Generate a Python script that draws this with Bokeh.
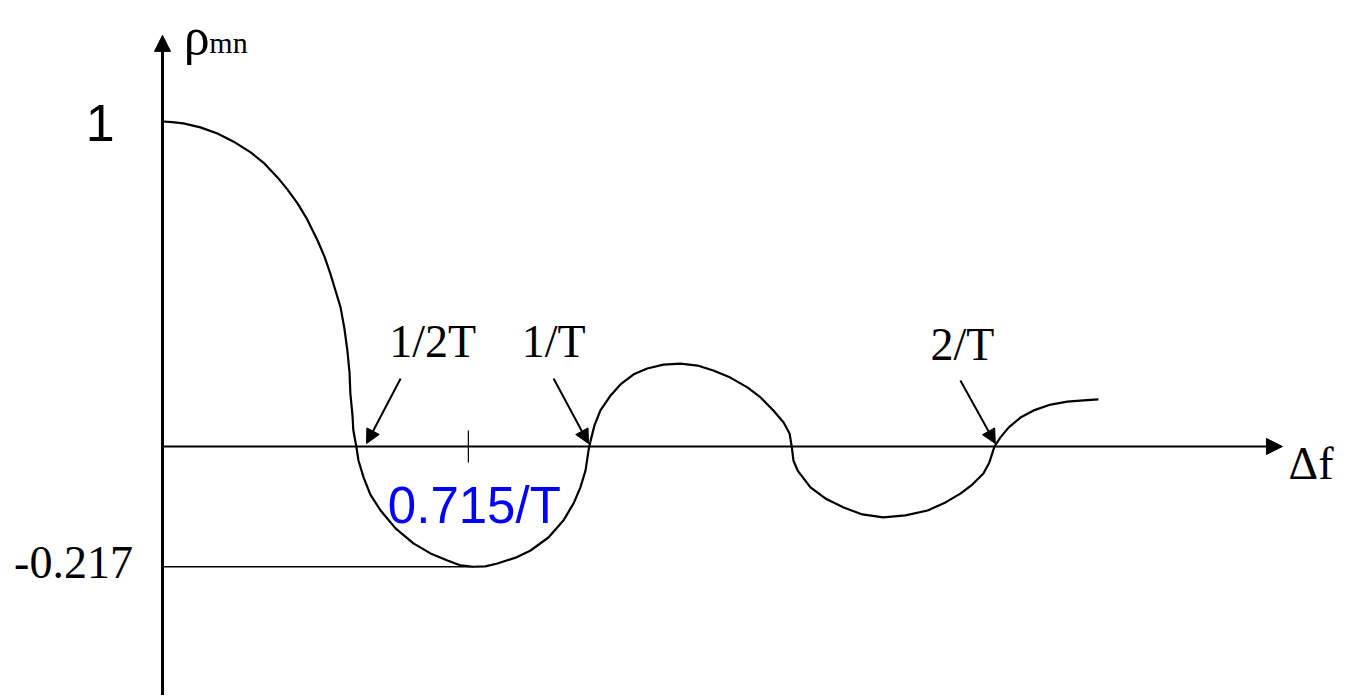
from bokeh.plotting import figure
from bokeh.models import Arrow, NormalHead, ColumnDataSource
from bokeh.core.properties import value
from bokeh.embed import file_html
from bokeh.resources import INLINE

# Schematic correlation curve rho_mn versus frequency offset (x in units of 1/T)
curve_x = [0.000, 0.023, 0.049, 0.089, 0.129, 0.167, 0.207, 0.239, 0.270, 0.293,
           0.317, 0.340, 0.364, 0.380, 0.394, 0.406, 0.418, 0.427, 0.434, 0.439,
           0.441, 0.446, 0.448, 0.455, 0.460, 0.472, 0.488, 0.512, 0.547, 0.589,
           0.629, 0.669, 0.700, 0.730, 0.758, 0.786, 0.829, 0.864, 0.906, 0.941,
           0.965, 0.981, 0.993, 1.000, 1.005, 1.014, 1.028, 1.052, 1.075, 1.106,
           1.138, 1.176, 1.216, 1.256, 1.293, 1.333, 1.373, 1.404, 1.434, 1.458,
           1.472, 1.477, 1.481, 1.491, 1.521, 1.556, 1.599, 1.643, 1.692, 1.744,
           1.796, 1.838, 1.873, 1.901, 1.927, 1.941, 1.953, 1.967, 1.986, 2.014,
           2.045, 2.085, 2.124, 2.162, 2.197]
curve_y = [1.000, 0.998, 0.994, 0.982, 0.963, 0.938, 0.905, 0.871, 0.828, 0.791,
           0.748, 0.698, 0.634, 0.585, 0.532, 0.480, 0.428, 0.363, 0.295, 0.228,
           0.163, 0.095, 0.049, 0.000, -0.043, -0.095, -0.148, -0.197, -0.252, -0.298,
           -0.329, -0.351, -0.366, -0.370, -0.369, -0.360, -0.342, -0.320, -0.280, -0.228,
           -0.175, -0.126, -0.074, -0.012, 0.018, 0.065, 0.111, 0.157, 0.191, 0.222,
           0.240, 0.252, 0.255, 0.249, 0.234, 0.212, 0.182, 0.151, 0.111, 0.074,
           0.040, 0.000, -0.043, -0.074, -0.126, -0.160, -0.188, -0.209, -0.218, -0.212,
           -0.197, -0.172, -0.145, -0.117, -0.083, -0.049, 0.000, 0.028, 0.058, 0.089,
           0.111, 0.129, 0.138, 0.142, 0.145]

rho_max = 1.0
rho_min = -0.37          # drawn position of the minimum
min_label = "-0.217"
min_x = 0.73             # 0.715/T
marks = ["1/2T", "1/T", "2/T"]
mark_x = [0.479, 1.0, 1.955]
mark_label_x = [0.634, 0.918, 1.878]
mark_label_y = [0.323, 0.323, 0.314]
arrow_start_x = [0.559, 0.918, 1.873]
arrow_start_y = [0.209, 0.209, 0.203]
tick_x = 0.718
tick_label = "0.715/T"

p = figure(width=1345, height=695, output_backend="svg", toolbar_location=None,
           x_range=(-0.3803, 2.7770), y_range=(-0.7662, 1.3723),
           x_axis_type=None, y_axis_type=None, min_border=0)
p.grid.visible = False
p.outline_line_color = None
p.background_fill_color = "white"
p.border_fill_color = "white"

# axes with arrowheads
p.add_layout(Arrow(x_start=0, y_start=-0.80, x_end=0, y_end=1.265,
                   line_width=3, line_color="black",
                   end=NormalHead(size=16, fill_color="black", line_color="black", line_width=1)))
p.add_layout(Arrow(x_start=0, y_start=0, x_end=2.629, y_end=0,
                   line_width=2, line_color="black",
                   end=NormalHead(size=16, fill_color="black", line_color="black", line_width=1)))

# min reference line and tick
p.line([0, min_x], [rho_min, rho_min], line_width=1.6, line_color="black")
p.line([tick_x, tick_x], [0.049, -0.049], line_width=1.2, line_color="black")

# curve
src = ColumnDataSource(dict(x=curve_x, y=curve_y))
p.line("x", "y", source=src, line_width=2.2, line_color="black", line_join="round")

# annotation arrows
for sx, sy, ex in zip(arrow_start_x, arrow_start_y, mark_x):
    p.add_layout(Arrow(x_start=sx, y_start=sy, x_end=ex, y_end=0.009,
                       line_width=2, line_color="black",
                       end=NormalHead(size=14, fill_color="black", line_color="black", line_width=1)))

serif = value("Liberation Serif")
sans = value("Liberation Sans")

p.text(x=mark_label_x, y=mark_label_y, text=marks, text_font=serif,
       text_font_size="46px", text_align="center", text_baseline="middle", text_color="black")
p.text(x=[-0.146], y=[0.994], text=[str(int(rho_max))], text_font=sans,
       text_font_size="52px", text_align="center", text_baseline="middle", text_color="black")
p.text(x=[-0.209], y=[-0.357], text=[min_label], text_font=serif,
       text_font_size="46px", text_align="center", text_baseline="middle", text_color="black")
p.text(x=[0.732], y=[-0.182], text=[tick_label], text_font=sans,
       text_font_size="51px", text_align="center", text_baseline="middle", text_color="#0000ff")
p.text(x=[2.696], y=[-0.052], text=["Δf"], text_font=serif,
       text_font_size="46px", text_align="center", text_baseline="middle", text_color="black")
p.text(x=[0.050], y=[1.262], text=["ρ"], text_font=serif,
       text_font_size="52px", text_align="left", text_baseline="alphabetic", text_color="black")
p.text(x=[0.110], y=[1.243], text=["mn"], text_font=serif,
       text_font_size="30px", text_align="left", text_baseline="alphabetic", text_color="black")

open("out.html", "w").write(file_html(p, INLINE))
